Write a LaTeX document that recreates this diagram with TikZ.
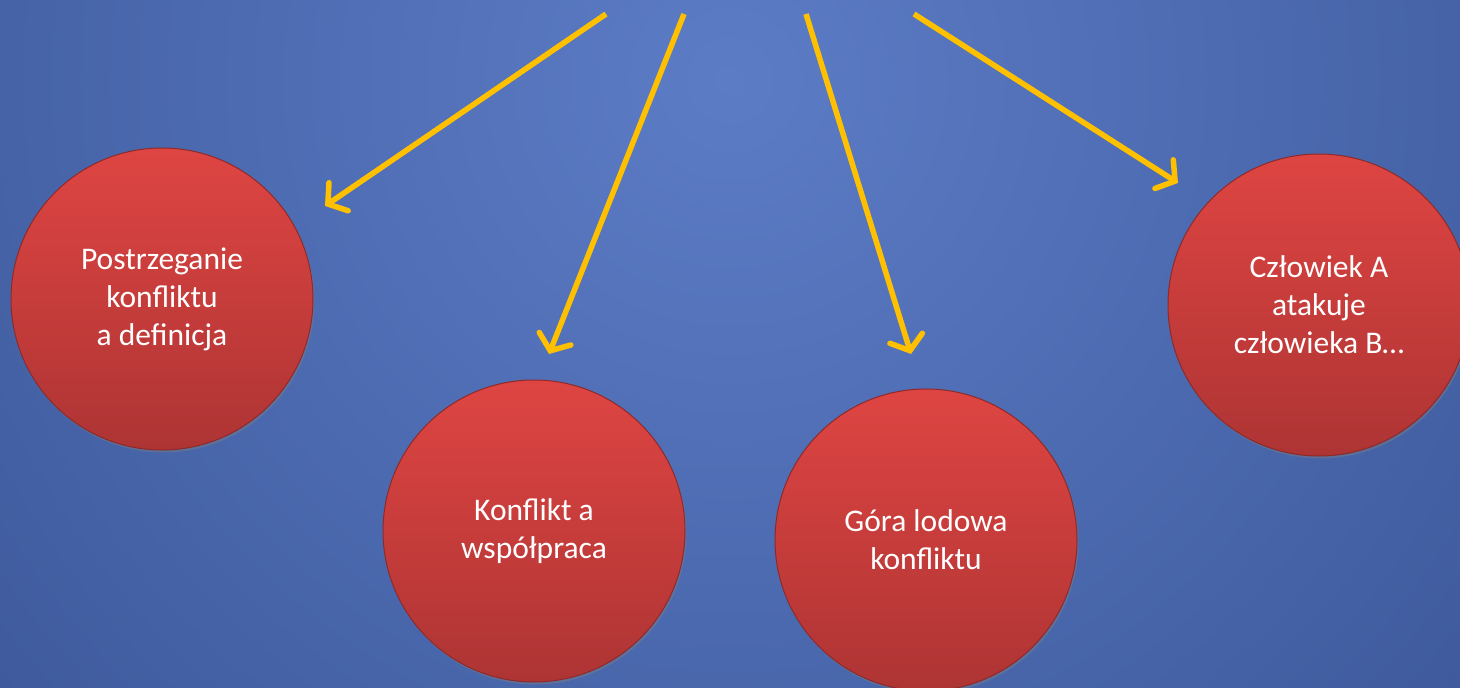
\documentclass[tikz,border=0pt]{standalone}
\usepackage{fontspec}
\setmainfont{Carlito}
\usetikzlibrary{arrows.meta,shadows}
\definecolor{bgin}{HTML}{5C7CC6}
\definecolor{bgout}{HTML}{2E4886}
\definecolor{redtop}{HTML}{DE4542}
\definecolor{redbot}{HTML}{AE3434}
\definecolor{redrim}{HTML}{8E2A2A}
\definecolor{arrowyel}{HTML}{FFC000}
\tikzset{
  bubble/.style={circle, minimum size=302pt, inner sep=0pt,
    top color=redtop, bottom color=redbot, draw=redrim, line width=1pt,
    text=white, align=center, font=\fontsize{31.5}{38}\selectfont,
    drop shadow={shadow xshift=1.5pt, shadow yshift=-2.5pt, opacity=0.4}},
  yarrow/.style={draw=arrowyel, line width=5.5pt,
    -{Straight Barb[length=13pt, width=34pt, line cap=round, line width=5.5pt]}}
}
\begin{document}
\begin{tikzpicture}[x=1pt,y=-1pt]
\useasboundingbox (0,0) rectangle (1460,688);
\begin{scope}
\clip (0,0) rectangle (1460,688);
\fill[bgout] (0,0) rectangle (1460,688);
\shade[inner color=bgin, outer color=bgout] (730,80) circle (1500);
\end{scope}
\begin{scope}
\clip (0,0) rectangle (1460,688);
\node[bubble] (c1) at (162,299) {Postrzeganie\\konfliktu\\a definicja};
\node[bubble] (c2) at (534,531) {Konflikt a\\współpraca};
\node[bubble] (c3) at (926,540) {Góra lodowa\\konfliktu};
\node[bubble] (c4) at (1319,305) {Człowiek A\\atakuje\\człowieka B…};
\end{scope}
\coordinate (s1) at (606,14);
\coordinate (e1) at (325,206);
\coordinate (s2) at (684,14);
\coordinate (e2) at (549,354);
\coordinate (s3) at (806,14);
\coordinate (e3) at (911,354);
\coordinate (s4) at (914,14);
\coordinate (e4) at (1178,183);
\draw[yarrow] (s1) -- (e1);
\draw[yarrow] (s2) -- (e2);
\draw[yarrow] (s3) -- (e3);
\draw[yarrow] (s4) -- (e4);
\end{tikzpicture}
\end{document}
